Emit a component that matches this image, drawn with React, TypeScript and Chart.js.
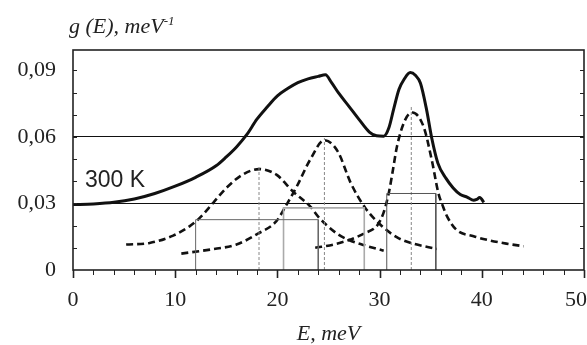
import React, { useEffect, useRef } from "react";
import { Chart, registerables } from "chart.js";

Chart.register(...registerables);

// Total density of states g(E)
const TOTAL_E = [0, 2, 4, 6, 8, 10, 12, 14, 15, 16, 17, 18, 19, 20, 21, 22, 23, 24, 24.7, 25.3, 26, 27, 28, 29, 29.7, 30.4, 30.9, 31.4, 31.9, 32.4, 33.0, 33.5, 34.0, 34.6, 35.1, 35.7, 36.5, 37.2, 37.9, 38.6, 39.2, 39.5, 39.8, 40.2];
const TOTAL_G = [0.0295, 0.0298, 0.0305, 0.032, 0.0345, 0.0378, 0.0418, 0.047, 0.051, 0.0555, 0.061, 0.068, 0.0735, 0.0785, 0.0818, 0.0845, 0.0862, 0.0873, 0.088, 0.0845, 0.0797, 0.0738, 0.0678, 0.0622, 0.0605, 0.0603, 0.064, 0.073, 0.0815, 0.086, 0.089, 0.0878, 0.0842, 0.0722, 0.0595, 0.0482, 0.0413, 0.037, 0.034, 0.0328, 0.0314, 0.0318, 0.0327, 0.0305];

// Component peaks (dashed)
const C1_E = [5.2, 7.5, 9.8, 11.4, 12.4, 13.7, 15.0, 16.6, 18.2, 19.9, 21.5, 23.2, 24.1, 25.8, 27.0, 28.4, 30.4];
const C1_G = [0.0115, 0.0122, 0.0155, 0.0197, 0.0235, 0.0302, 0.037, 0.043, 0.0455, 0.043, 0.0355, 0.0287, 0.0235, 0.0165, 0.0135, 0.0113, 0.0087];

const C2_E = [10.6, 13.4, 16.0, 18.1, 19.9, 20.9, 21.9, 23.2, 24.6, 25.9, 27.2, 28.6, 30.3, 31.8, 33.2, 35.6];
const C2_G = [0.0074, 0.0092, 0.0115, 0.0164, 0.022, 0.0295, 0.0377, 0.0497, 0.0585, 0.0535, 0.039, 0.028, 0.0195, 0.0145, 0.012, 0.0095];

const C3_E = [23.7, 25.5, 27.0, 28.5, 29.8, 30.4, 30.9, 31.3, 31.7, 32.5, 33.2, 34.3, 35.1, 35.75, 36.2, 36.6, 37.5, 39.2, 40.8, 42.4, 44.1];
const C3_G = [0.01, 0.0115, 0.0135, 0.0165, 0.0203, 0.026, 0.0347, 0.045, 0.0557, 0.0677, 0.071, 0.0647, 0.0497, 0.0347, 0.0287, 0.0242, 0.0182, 0.0152, 0.0133, 0.0119, 0.0107];

// Peak centres and half-height markers
const PEAK_C = [18.2, 24.6, 33.1];
const PEAK_TOP = [0.0464, 0.0595, 0.0737];
const HALF_L = [12.0, 20.6, 30.7];
const HALF_R = [24.0, 28.5, 35.5];
const HALF_H = [0.0227, 0.028, 0.0345];
const MARK_COLORS = ["#666", "#aaa", "#555"];
const MARK_WIDTHS = [1, 1.6, 1];

// Axis ticks
const X_MIN = 0;
const X_MAX = 50;
const X_STEP = 2;
const X_LABEL_EVERY = 10;
const Y_MIN = 0;
const Y_MAX = 0.0992;
const Y_TICKS = [0, 0.01, 0.02, 0.03, 0.04, 0.05, 0.06, 0.07, 0.08, 0.09];
const Y_LABELS = [0, 0.03, 0.06, 0.09];
const REF_LINES = [0.03, 0.06];

const TICK_FONT = { family: "'Liberation Serif', serif", size: 22 };
const X_TICK_PAD = 17;

const pts = (xs: number[], ys: number[]) => xs.map((x, i) => ({ x, y: ys[i] }));
const near = (a: number, b: number) => Math.abs(a - b) < 1e-6;

export default function App() {
  const ref = useRef<HTMLCanvasElement>(null);

  useEffect(() => {
    if (!ref.current) return;

    const framePlugin = {
      id: "frameTicks",
      afterDraw(chart: any) {
        const { ctx, chartArea: a, scales } = chart;
        const xs = scales.x;
        const ys = scales.y;
        ctx.save();
        ctx.strokeStyle = "#222";
        ctx.lineWidth = 1;
        const seg = (x1: number, y1: number, x2: number, y2: number) => {
          ctx.beginPath();
          ctx.moveTo(x1, y1);
          ctx.lineTo(x2, y2);
          ctx.stroke();
        };
        ys.ticks.forEach((t: any) => {
          const v = t.value;
          if (v <= 0 || v > 0.0905) return;
          const p = Math.round(ys.getPixelForValue(v)) + 0.5;
          seg(a.left, p, a.left + 4, p);
          seg(a.right, p, a.right - 4, p);
        });
        xs.ticks.forEach((t: any) => {
          const p = Math.round(xs.getPixelForValue(t.value)) + 0.5;
          const major = Math.round(t.value) % X_LABEL_EVERY === 0;
          ctx.lineWidth = major ? 1.6 : 1;
          seg(p, a.bottom, p, a.bottom + (major ? 8 : 5));
        });
        ctx.lineWidth = 1.6;
        ctx.strokeRect(a.left, a.top, a.right - a.left, a.bottom - a.top);
        // last x label, kept inside the canvas like the original
        ctx.fillStyle = "#222";
        ctx.font = `${TICK_FONT.size}px ${TICK_FONT.family}`;
        ctx.textAlign = "right";
        ctx.textBaseline = "middle";
        ctx.fillText(String(X_MAX), chart.width, xs.top + X_TICK_PAD + TICK_FONT.size * 0.6);
        ctx.restore();
      },
    };

    const dashed = (data: any) => ({
      data,
      borderColor: "#111",
      borderWidth: 2.6,
      borderDash: [7, 4],
      pointRadius: 0,
      cubicInterpolationMode: "monotone",
      fill: false,
    });

    const markers: any[] = [];
    PEAK_C.forEach((c, i) => {
      markers.push({
        data: [
          { x: HALF_L[i], y: 0 },
          { x: HALF_L[i], y: HALF_H[i] },
          { x: HALF_R[i], y: HALF_H[i] },
          { x: HALF_R[i], y: 0 },
        ],
        borderColor: MARK_COLORS[i],
        borderWidth: MARK_WIDTHS[i],
        pointRadius: 0,
        tension: 0,
        fill: false,
      });
      markers.push({
        data: [
          { x: c, y: 0 },
          { x: c, y: PEAK_TOP[i] },
        ],
        borderColor: "#888",
        borderWidth: 1,
        borderDash: [3, 2],
        pointRadius: 0,
        tension: 0,
        fill: false,
      });
    });

    const chart = new Chart(ref.current, {
      type: "line",
      data: {
        datasets: [
          ...markers,
          dashed(pts(C1_E, C1_G)),
          dashed(pts(C2_E, C2_G)),
          dashed(pts(C3_E, C3_G)),
          {
            data: pts(TOTAL_E, TOTAL_G),
            borderColor: "#111",
            borderWidth: 3,
            pointRadius: 0,
            cubicInterpolationMode: "monotone",
            fill: false,
          },
        ] as any,
      },
      options: {
        animation: false,
        responsive: true,
        maintainAspectRatio: false,
        layout: { padding: { left: 0, right: 3, top: 50, bottom: 0 } },
        plugins: {
          legend: { display: false },
          tooltip: { enabled: false },
          title: { display: false },
        },
        scales: {
          x: {
            type: "linear",
            min: X_MIN,
            max: X_MAX,
            afterFit: (s: any) => {
              s.height = 75;
              s.paddingLeft = 0;
              s.paddingRight = 0;
            },
            border: { display: false },
            grid: { display: false, drawTicks: false },
            ticks: {
              stepSize: X_STEP,
              autoSkip: false,
              maxRotation: 0,
              padding: X_TICK_PAD,
              color: "#222",
              font: TICK_FONT,
              callback: (v: any) =>
                Math.round(v) % X_LABEL_EVERY === 0 && !near(v, X_MAX) ? String(v) : "",
            },
            title: {
              display: true,
              text: "E, meV",
              color: "#222",
              padding: { top: 0, bottom: 0 },
              font: { family: "'Liberation Serif', serif", size: 22, style: "italic", lineHeight: 1 },
            },
          },
          y: {
            type: "linear",
            min: Y_MIN,
            max: Y_MAX,
            afterBuildTicks: (s: any) => {
              s.ticks = Y_TICKS.map((v) => ({ value: v }));
            },
            afterFit: (s: any) => {
              s.width = 73;
              s.paddingTop = 0;
              s.paddingBottom = 0;
            },
            border: { display: false },
            grid: {
              drawTicks: false,
              lineWidth: 1,
              color: (ctx: any) =>
                REF_LINES.some((r) => near(ctx.tick?.value ?? -1, r)) ? "#111" : "rgba(0,0,0,0)",
            },
            ticks: {
              autoSkip: false,
              padding: 17,
              color: "#222",
              font: TICK_FONT,
              callback: (v: any) => {
                const lab = Y_LABELS.find((l) => near(v, l));
                if (lab === undefined) return "";
                return lab === 0 ? "0" : lab.toFixed(2).replace(".", ",");
              },
            },
          },
        },
      } as any,
      plugins: [framePlugin],
    });

    return () => chart.destroy();
  }, []);

  return (
    <div style={{ position: "absolute", left: 0, top: 0, width: 587, height: 345, background: "#fff" }}>
      <canvas ref={ref} />
      <div
        style={{
          position: "absolute",
          left: 69,
          top: 15,
          font: "italic 22px 'Liberation Serif', serif",
          lineHeight: 1,
          color: "#222",
          whiteSpace: "nowrap",
        }}
      >
        g (E), meV
        <span style={{ fontSize: 13, position: "relative", top: -8 }}>-1</span>
      </div>
      <div
        style={{
          position: "absolute",
          left: 85,
          top: 168,
          font: "23px 'Liberation Sans', Arial, sans-serif",
          lineHeight: 1,
          color: "#222",
          whiteSpace: "nowrap",
        }}
      >
        300 K
      </div>
    </div>
  );
}
